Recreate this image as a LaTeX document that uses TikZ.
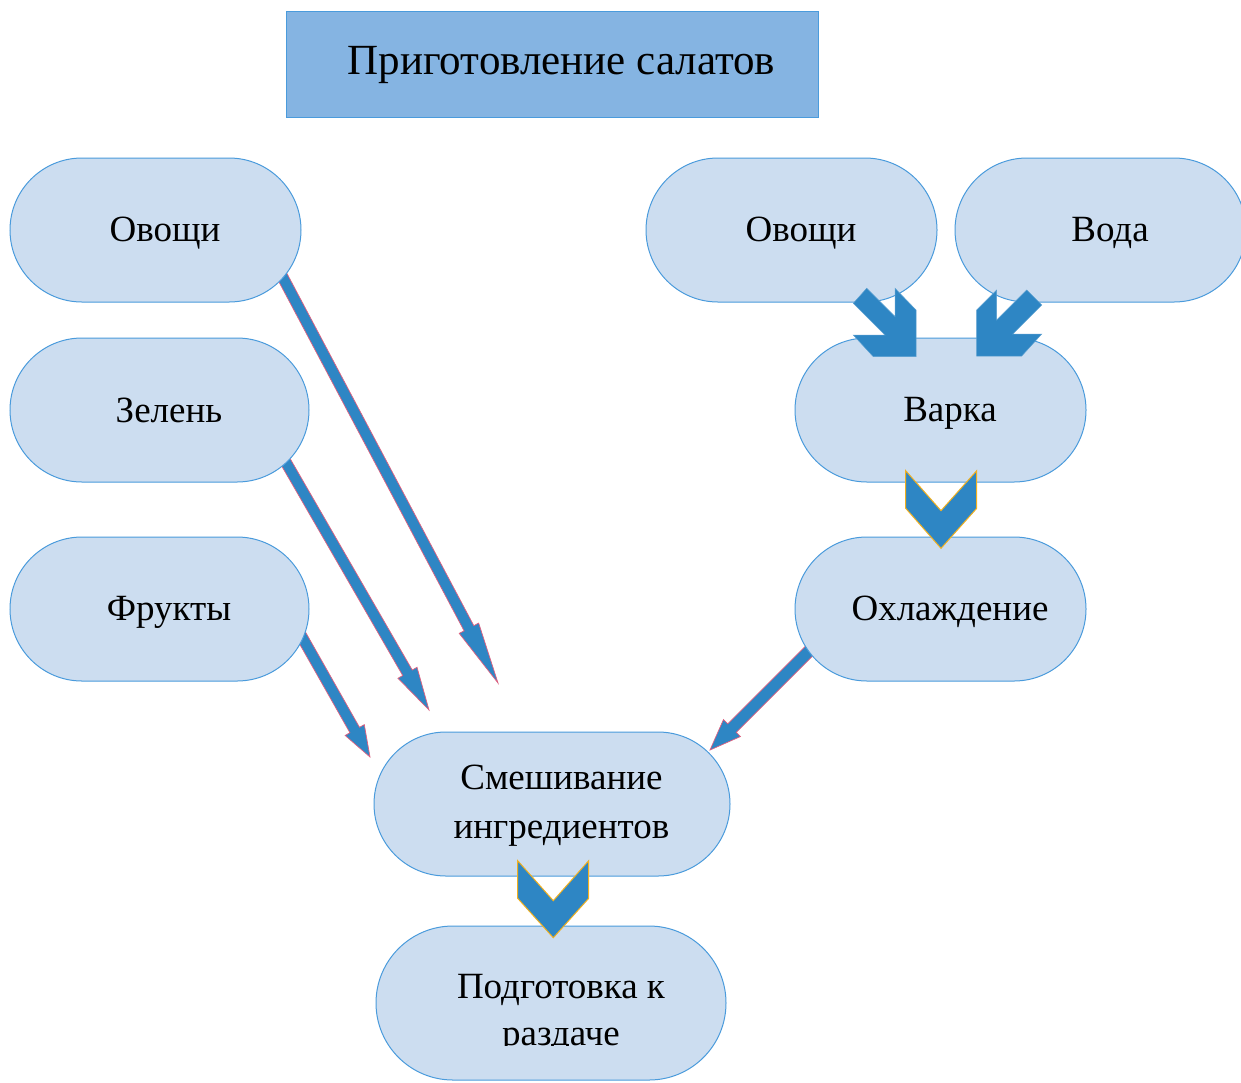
\documentclass[tikz,border=0pt]{standalone}
\usepackage{fontspec}
\setmainfont{Liberation Serif}
\usetikzlibrary{calc}
\definecolor{boxfill}{HTML}{CCDDF0}
\definecolor{boxline}{HTML}{4A9BDC}
\definecolor{titlefill}{HTML}{85B4E2}
\definecolor{arrfill}{HTML}{2E86C4}
\definecolor{arrline}{HTML}{E0607F}
\definecolor{chevline}{HTML}{F2B01E}
\newcommand{\thinarr}[5]{%
  \coordinate (tA) at (#1); \coordinate (tB) at (#2);
  \coordinate (tH) at ($(tB)!#3pt!(tA)$);
  \fill[thinarrow]
    ($(tA)!#4pt!90:(tB)$) -- ($(tH)!#4pt!90:(tB)$) -- ($(tH)!#5pt!90:(tB)$) -- (tB)
    -- ($(tH)!#5pt!-90:(tB)$) -- ($(tH)!#4pt!-90:(tB)$) -- ($(tA)!#4pt!-90:(tB)$) -- cycle;}
\tikzset{
  box/.style={draw=boxline, fill=boxfill, line width=1pt, rounded corners=72pt,
    minimum width=291pt, minimum height=144pt, inner sep=0pt,
    font=\fontsize{37}{49}\selectfont, align=center},
  titlebox/.style={draw=boxline, fill=titlefill, line width=1pt, minimum width=532pt,
    minimum height=106pt, inner sep=0pt, font=\fontsize{43}{49}\selectfont},
  thinarrow/.style={fill=arrfill, draw=arrline, line width=0.7pt, line join=miter},
  blockarrow/.style={fill=arrfill, draw=arrfill!80!white, line width=0.5pt},
  chevron/.style={fill=arrfill, draw=chevline, line width=1pt, line join=miter}
}
\newcommand{\tx}[2][3pt]{\hspace*{19pt}\raisebox{-#1}[\height][\depth]{#2}}
\begin{document}
\begin{tikzpicture}[x=1pt,y=-1pt]
\clip (0,0) rectangle (1241,1082);
\fill[white] (0,0) rectangle (1241,1082);

\node[titlebox] (title) at (552,64) {\tx[1pt]{Приготовление салатов}};

% mixing node first (arrows touch it)
\node[box, minimum width=356pt] (mix) at (552,804) {\tx[2pt]{Смешивание}\\\tx[2pt]{ингредиентов}};

% thin arrows
\coordinate (a1s) at (281,274); \coordinate (a1t) at (498,683);
\coordinate (a2s) at (284,459); \coordinate (a2t) at (429,710);
\coordinate (a3s) at (298,630); \coordinate (a3t) at (370,757);
\coordinate (a4s) at (815,645); \coordinate (a4t) at (710,750);
\thinarr{a1s}{a1t}{62}{5.5}{11}
\thinarr{a2s}{a2t}{43}{5.5}{11}
\thinarr{a3s}{a3t}{31}{5.5}{11}
\thinarr{a4s}{a4t}{31}{6}{12}

% boxes
\node[box] (vegL) at (155.5,230) {\tx{Овощи}};
\node[box, minimum width=299pt] (greens) at (159.5,410) {\tx[0pt]{Зелень}};
\node[box, minimum width=299pt] (fruit) at (159.5,609) {\tx{Фрукты}};
\node[box] (vegR) at (791.5,230) {\tx{Овощи}};
\node[box] (water) at (1100.5,230) {\tx{Вода}};
\node[box] (boil) at (940.5,410) {\tx{Варка}};
\node[box] (cool) at (940.5,609) {\tx{Охлаждение}};
\node[box, minimum width=350pt, minimum height=154pt, rounded corners=77pt] (serve) at (551,1003) {};
\begin{scope}
  \clip (376,926) rectangle (726,1045);
  \node[font=\fontsize{37}{47}\selectfont, align=center, inner sep=0pt] (servetext) at (561,1013.5) {Подготовка к\\раздаче};
\end{scope}

% block arrows into Варка
\fill[blockarrow] (866.7,288.3) -- (895,316.6) -- (895,288.3) -- (916,310) -- (916,356.7)
  -- (873.3,356.7) -- (853.3,335) -- (885,335) -- (853.3,303.3) -- cycle;
\fill[blockarrow] (1026.7,290) -- (996.7,320) -- (996.7,290) -- (976.7,310) -- (976.7,356)
  -- (1021.7,356) -- (1041.7,334) -- (1012.7,334) -- (1041.7,305) -- cycle;

% chevrons
\filldraw[chevron] (905.7,470.7) -- (941,510.7) -- (976.7,470.7) -- (976.7,508.3)
  -- (941,548.3) -- (905.7,508.3) -- cycle;
\filldraw[chevron] (517.7,860.7) -- (553.3,900.7) -- (588.7,860.7) -- (588.7,898.3)
  -- (553.3,937.7) -- (517.7,898.3) -- cycle;
\end{tikzpicture}
\end{document}
